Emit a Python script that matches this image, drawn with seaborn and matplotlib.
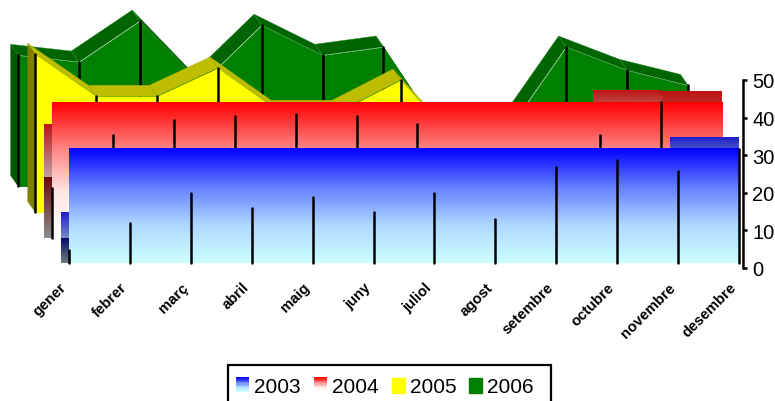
import numpy as np
import pandas as pd
import seaborn as sns
import matplotlib.pyplot as plt
from matplotlib.legend_handler import HandlerBase
from matplotlib.patches import Patch, Rectangle
from matplotlib.transforms import ScaledTranslation

months = ['gener', 'febrer', 'març', 'abril', 'maig', 'juny', 'juliol', 'agost',
          'setembre', 'octubre', 'novembre', 'desembre']
values_2003 = [3.7, 10.7, 18.7, 14.7, 17.6, 13.6, 18.7, 11.7, 25.6, 27.5, 24.5, 30.4]
values_2004 = [13.3, 27.2, 31.2, 32.3, 32.9, 32.3, 30.1, 20.0, 21.0, 27.2, 36.1, 12.5]
values_2005 = [42.1, 30.9, 30.9, 38.4, 26.9, 26.9, 35.2, 17.3, 11.0, 23.5, 29.5, 21.9]
values_2006 = [34.9, 33.1, 44.0, 27.2, 42.9, 34.9, 37.1, 12.8, 13.9, 37.1, 30.9, 26.9]

# Depth of the fake 3D: each series sits behind the next one
X_SHIFT = [0.0, -0.279, -0.557, -0.837]
Y_SHIFT = [1.2, 8.1, 14.8, 21.7]
DX, DY = 0.125, 2.9

x = np.arange(12)

fig = plt.figure(figsize=(7.75, 4.02), dpi=100)
sns.set_style('white')
plt.rcParams['font.family'] = ['Liberation Sans', 'DejaVu Sans']
plt.rcParams['text.color'] = 'black'
ax = fig.add_axes([69 / 775, 1 - 269 / 402, 670 / 775, 188 / 402])
ax.patch.set_alpha(0)

blue_front = sns.blend_palette(['#0000ff', '#647dff', '#afd7ff', '#ccffff'], as_cmap=True)
blue_side = sns.blend_palette(['#1e1ec8', '#96bec8'], as_cmap=True)
blue_low = sns.blend_palette(['#0a0a6e', '#697d7d'], as_cmap=True)
red_front = sns.blend_palette(['#ff0000', '#ff8282', '#ffe6e6', '#ffffff'], as_cmap=True)
red_side = sns.blend_palette(['#be1414', '#bebebe'], as_cmap=True)
red_low = sns.blend_palette(['#6e0a0a', '#8c8c8c'], as_cmap=True)


def idx_z(idx):
    return 10 * (4 - idx)


def gradient(cmap, x0, x1, y0, y1, z):
    ramp = np.linspace(0, 1, 128).reshape(-1, 1)
    ax.imshow(ramp, cmap=cmap, extent=(x0, x1, y0, y1), aspect='auto', origin='upper',
              zorder=z, clip_on=False, vmin=0, vmax=1)


def gradient_series(vals, idx, front, side, low):
    xs = x + X_SHIFT[idx]
    base = Y_SHIFT[idx]
    tops = np.array(vals) + base
    z = idx_z(idx)
    # the bounding box of each top face, last one first
    for i in range(10, -1, -1):
        gradient(side, xs[i] - DX, xs[i + 1], min(tops[i], tops[i + 1]),
                 max(tops[i], tops[i + 1]) + DY, z + (10 - i) * 0.001)
    gradient(low, xs[0] - DX, xs[0], base, tops[0] + DY, z + 0.1)
    gradient(front, xs[0], xs[11], base, tops.max(), z + 0.2)


def solid_series(vals, idx, front, top, side, edge):
    xs = x + X_SHIFT[idx]
    base = Y_SHIFT[idx]
    tops = np.array(vals) + base
    z = idx_z(idx)
    for i in range(11):
        ax.fill([xs[i], xs[i + 1], xs[i + 1] - DX, xs[i] - DX],
                [tops[i], tops[i + 1], tops[i + 1] + DY, tops[i] + DY],
                fc=top, ec=edge, lw=0.3, zorder=z, clip_on=False)
    ax.fill([xs[0], xs[0], xs[0] - DX, xs[0] - DX],
            [base, tops[0], tops[0] + DY, base + DY],
            color=side, lw=0, zorder=z + 0.1, clip_on=False)
    ax.fill_between(xs, base, tops, color=front, lw=0, zorder=z + 0.2, clip_on=False)


def spikes(vals, idx):
    xs = x + X_SHIFT[idx]
    base = Y_SHIFT[idx]
    rows = []
    for i, v in enumerate(vals):
        rows.append({'x': xs[i], 'y': base, 'month': i})
        rows.append({'x': xs[i], 'y': base + v, 'month': i})
    df = pd.DataFrame(rows)
    sns.lineplot(data=df, x='x', y='y', units='month', estimator=None, sort=False, color='black',
                 linewidth=1.8, legend=False, ax=ax, zorder=idx_z(idx) + 0.5, clip_on=False)


solid_series(values_2006, 3, '#008000', '#006400', '#005a00', '#2e8b2e')
spikes(values_2006, 3)
solid_series(values_2005, 2, '#ffff00', '#bebe00', '#808000', '#a8a800')
spikes(values_2005, 2)
gradient_series(values_2004, 1, red_front, red_side, red_low)
spikes(values_2004, 1)
gradient_series(values_2003, 0, blue_front, blue_side, blue_low)
spikes(values_2003, 0)

ax.set_xlim(0, 11)
ax.set_ylim(0, 50)
ax.set_xlabel('')
ax.set_ylabel('')
for side in ['top', 'left', 'bottom']:
    ax.spines[side].set_visible(False)
ax.spines['right'].set_position(('outward', 2.9))
ax.spines['right'].set_linewidth(1.8)
ax.spines['right'].set_color('black')
ax.yaxis.tick_right()
ax.set_yticks(range(0, 51, 10))
ax.tick_params(axis='y', direction='out', length=3, width=1.8, pad=3.5, labelsize=14.5,
               colors='black', right=True, left=False)
ax.set_xticks(x)
ax.set_xticklabels(months, rotation=45, ha='right', va='center', rotation_mode='anchor',
                   fontsize=10.7, fontweight='bold')
ax.tick_params(axis='x', length=0, pad=12, bottom=False, colors='black')
nudge = ScaledTranslation(-5 / 100, 0, fig.dpi_scale_trans)
for lab in ax.get_xticklabels():
    lab.set_transform(lab.get_transform() + nudge)


class GradientHandler(HandlerBase):
    def __init__(self, cmap):
        super().__init__()
        self.cmap = cmap

    def create_artists(self, legend, orig, xd, yd, w, h, fs, trans):
        strips = []
        for k in range(12):
            strips.append(Rectangle((xd, yd + h - (k + 1) * h / 12), w, h / 12 + 0.2, lw=0,
                                    fc=self.cmap(k / 11), transform=trans))
        return strips


h_2003, h_2004 = Patch(label='2003'), Patch(label='2004')
h_2005 = Patch(color='#ffff00', label='2005')
h_2006 = Patch(color='#008000', label='2006')
leg = ax.legend(handles=[h_2003, h_2004, h_2005, h_2006], ncol=4, fontsize=15,
                handler_map={h_2003: GradientHandler(blue_front), h_2004: GradientHandler(red_front)},
                loc='upper left', bbox_to_anchor=(227 / 775, 1 - 369 / 402),
                bbox_transform=fig.transFigure, borderaxespad=0, borderpad=0.45,
                handlelength=0.62, handleheight=0.72, handletextpad=0.24, columnspacing=0.63,
                labelcolor='black', frameon=False)
leg.set_zorder(100)
# legend box runs off the bottom of the figure
fig.add_artist(Rectangle((228 / 775, -0.05), 323 / 775, 0.05 + 1 - 366 / 402, fill=False,
                         ec='black', lw=1.6, transform=fig.transFigure))

fig.savefig('out.png', dpi=100)
